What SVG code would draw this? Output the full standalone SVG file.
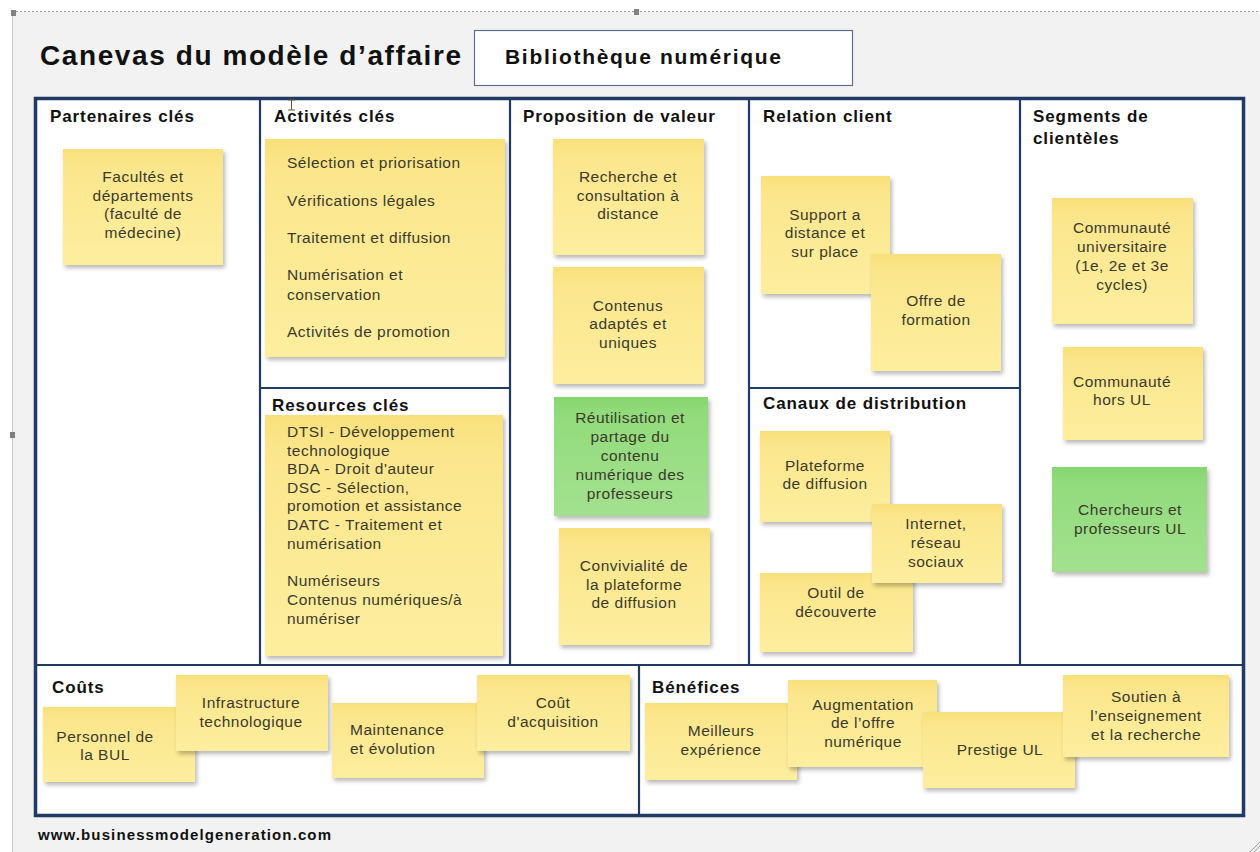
<svg xmlns="http://www.w3.org/2000/svg" width="1260" height="852" viewBox="0 0 1260 852">
<defs>
<linearGradient id="gy" x1="0" y1="0" x2="0" y2="1">
<stop offset="0" stop-color="#f8e07a"/>
<stop offset="0.15" stop-color="#fbe68c"/>
<stop offset="1" stop-color="#fdee9f"/>
</linearGradient>
<linearGradient id="gg" x1="0" y1="0" x2="0" y2="1">
<stop offset="0" stop-color="#86d670"/>
<stop offset="0.15" stop-color="#92db7c"/>
<stop offset="1" stop-color="#a3e18f"/>
</linearGradient>
<filter id="sh" x="-10%" y="-10%" width="125%" height="130%">
<feDropShadow dx="2" dy="3" stdDeviation="2" flood-color="#000" flood-opacity="0.28"/>
</filter>
</defs>
<style>
.note{fill:url(#gy);filter:url(#sh)}
.green{fill:url(#gg);filter:url(#sh)}
.nt{font-family:"Liberation Sans",Arial,sans-serif;font-size:15.5px;letter-spacing:0.5px;fill:#3b3a2c}
.c{text-anchor:middle}
.hd{font-family:"Liberation Sans",Arial,sans-serif;font-size:17px;letter-spacing:0.9px;font-weight:bold;fill:#111}
.ln{stroke:#1f3a63;stroke-width:2.2;fill:none}
</style>
<rect x="0" y="0" width="1260" height="852" fill="#ffffff"/>
<rect x="13" y="12" width="1247" height="840" fill="#f2f2f2"/>
<line x1="12" y1="11.5" x2="1260" y2="11.5" stroke="#9a9a9a" stroke-width="1" stroke-dasharray="2,2"/>
<line x1="12.5" y1="12" x2="12.5" y2="852" stroke="#c8c8c8" stroke-width="1"/>
<rect x="11" y="10" width="5" height="6" fill="#808080"/>
<rect x="634" y="9" width="5" height="6" fill="#808080"/>
<rect x="10" y="432" width="5" height="6" fill="#808080"/>
<path d="M1250 852 L1260 842 M1254 852 L1260 846" stroke="#9a9a9a" stroke-width="1"/>

<g id="title">
<text x="40" y="65" font-family="Liberation Sans,Arial,sans-serif" font-size="28" font-weight="bold" fill="#111" textLength="421" lengthAdjust="spacing">Canevas du modèle d’affaire</text>
<rect x="474.5" y="30.5" width="378" height="55" fill="#ffffff" stroke="#5d7290" stroke-width="1.2"/>
<text x="505" y="64" font-family="Liberation Sans,Arial,sans-serif" font-size="21" font-weight="bold" fill="#111" textLength="276" lengthAdjust="spacing">Bibliothèque numérique</text>
</g>

<g id="canvas">
<rect x="35.5" y="98.5" width="1208" height="717" fill="#ffffff"/>
<line class="ln" x1="260" y1="98" x2="260" y2="665"/>
<line class="ln" x1="510" y1="98" x2="510" y2="665"/>
<line class="ln" x1="749" y1="98" x2="749" y2="665"/>
<line class="ln" x1="1020" y1="98" x2="1020" y2="665"/>
<line class="ln" x1="260" y1="388" x2="510" y2="388"/>
<line class="ln" x1="749" y1="388" x2="1020" y2="388"/>
<line class="ln" x1="35" y1="665" x2="1244" y2="665"/>
<line class="ln" x1="639" y1="665" x2="639" y2="815"/>
<rect x="35.5" y="98.5" width="1208" height="717" fill="none" stroke="#1f3a63" stroke-width="3.5"/>
<text class="hd" x="50" y="122">Partenaires clés</text>
<text class="hd" x="274" y="122">Activités clés</text>
<text class="hd" x="523" y="122">Proposition de valeur</text>
<text class="hd" x="763" y="122">Relation client</text>
<text class="hd" x="1033" y="122">Segments de</text>
<text class="hd" x="1033" y="144">clientèles</text>
<text class="hd" x="272" y="411">Resources clés</text>
<text class="hd" x="763" y="409">Canaux de distribution</text>
<text class="hd" x="52" y="693">Coûts</text>
<text class="hd" x="652" y="693">Bénéfices</text>
<path d="M288 100 L295 100 M291.5 100 L291.5 110 M288 110 L295 110" stroke="#6b5a3a" stroke-width="1"/>
</g>

<g id="n-facultes">
<rect class="note" x="63" y="149" width="160" height="116"/>
<text class="nt c" x="143" y="182">Facultés et</text>
<text class="nt c" x="143" y="201">départements</text>
<text class="nt c" x="143" y="219">(faculté de</text>
<text class="nt c" x="143" y="238">médecine)</text>
</g>

<g id="n-activites">
<rect class="note" x="265" y="139" width="240" height="218"/>
<text class="nt" x="287" y="168">Sélection et priorisation</text>
<text class="nt" x="287" y="206">Vérifications légales</text>
<text class="nt" x="287" y="243">Traitement et diffusion</text>
<text class="nt" x="287" y="280">Numérisation et</text>
<text class="nt" x="287" y="300">conservation</text>
<text class="nt" x="287" y="337">Activités de promotion</text>
</g>

<g id="n-ressources">
<rect class="note" x="265" y="415" width="238" height="241"/>
<text class="nt" x="287" y="437">DTSI - Développement</text>
<text class="nt" x="287" y="456">technologique</text>
<text class="nt" x="287" y="474">BDA - Droit d'auteur</text>
<text class="nt" x="287" y="493">DSC - Sélection,</text>
<text class="nt" x="287" y="511">promotion et assistance</text>
<text class="nt" x="287" y="530">DATC - Traitement et</text>
<text class="nt" x="287" y="549">numérisation</text>
<text class="nt" x="287" y="586">Numériseurs</text>
<text class="nt" x="287" y="605">Contenus numériques/à</text>
<text class="nt" x="287" y="624">numériser</text>
</g>

<g id="n-recherche">
<rect class="note" x="553" y="139" width="151" height="116"/>
<text class="nt c" x="628" y="182">Recherche et</text>
<text class="nt c" x="628" y="201">consultation à</text>
<text class="nt c" x="628" y="219">distance</text>
</g>

<g id="n-contenus">
<rect class="note" x="553" y="267" width="151" height="117"/>
<text class="nt c" x="628" y="311">Contenus</text>
<text class="nt c" x="628" y="329">adaptés et</text>
<text class="nt c" x="628" y="348">uniques</text>
</g>

<g id="n-reutilisation">
<rect class="green" x="554" y="397" width="154" height="119"/>
<text class="nt c" x="630" y="423">Réutilisation et</text>
<text class="nt c" x="630" y="442">partage du</text>
<text class="nt c" x="630" y="461">contenu</text>
<text class="nt c" x="630" y="480">numérique des</text>
<text class="nt c" x="630" y="499">professeurs</text>
</g>

<g id="n-convivialite">
<rect class="note" x="559" y="528" width="151" height="117"/>
<text class="nt c" x="634" y="571">Convivialité de</text>
<text class="nt c" x="634" y="590">la plateforme</text>
<text class="nt c" x="634" y="608">de diffusion</text>
</g>

<g id="n-support">
<rect class="note" x="761" y="176" width="129" height="118"/>
<text class="nt c" x="825" y="220">Support a</text>
<text class="nt c" x="825" y="238">distance et</text>
<text class="nt c" x="825" y="257">sur place</text>
</g>

<g id="n-offre">
<rect class="note" x="871" y="254" width="130" height="117"/>
<text class="nt c" x="936" y="306">Offre de</text>
<text class="nt c" x="936" y="325">formation</text>
</g>

<g id="n-plateforme">
<rect class="note" x="760" y="431" width="130" height="91"/>
<text class="nt c" x="825" y="471">Plateforme</text>
<text class="nt c" x="825" y="489">de diffusion</text>
</g>

<g id="n-outil">
<rect class="note" x="760" y="573" width="153" height="79"/>
<text class="nt c" x="836" y="598">Outil de</text>
<text class="nt c" x="836" y="617">découverte</text>
</g>

<g id="n-internet">
<rect class="note" x="872" y="504" width="130" height="79"/>
<text class="nt c" x="936" y="529">Internet,</text>
<text class="nt c" x="936" y="548">réseau</text>
<text class="nt c" x="936" y="567">sociaux</text>
</g>

<g id="n-communaute-univ">
<rect class="note" x="1052" y="198" width="141" height="126"/>
<text class="nt c" x="1122" y="233">Communauté</text>
<text class="nt c" x="1122" y="252">universitaire</text>
<text class="nt c" x="1122" y="271">(1e, 2e et 3e</text>
<text class="nt c" x="1122" y="290">cycles)</text>
</g>

<g id="n-communaute-hors">
<rect class="note" x="1063" y="347" width="140" height="93"/>
<text class="nt c" x="1122" y="387">Communauté</text>
<text class="nt c" x="1122" y="405">hors UL</text>
</g>

<g id="n-chercheurs">
<rect class="green" x="1052" y="467" width="155" height="105"/>
<text class="nt c" x="1130" y="515">Chercheurs et</text>
<text class="nt c" x="1130" y="534">professeurs UL</text>
</g>

<g id="n-personnel">
<rect class="note" x="43" y="707" width="152" height="75"/>
<text class="nt c" x="105" y="742">Personnel de</text>
<text class="nt c" x="105" y="760">la BUL</text>
</g>

<g id="n-infrastructure">
<rect class="note" x="176" y="675" width="152" height="76"/>
<text class="nt c" x="251" y="708">Infrastructure</text>
<text class="nt c" x="251" y="727">technologique</text>
</g>

<g id="n-maintenance">
<rect class="note" x="332" y="703" width="152" height="75"/>
<text class="nt" x="350" y="735">Maintenance</text>
<text class="nt" x="350" y="754">et évolution</text>
</g>

<g id="n-cout">
<rect class="note" x="477" y="675" width="153" height="76"/>
<text class="nt c" x="553" y="708">Coût</text>
<text class="nt c" x="553" y="727">d'acquisition</text>
</g>

<g id="n-meilleurs">
<rect class="note" x="645" y="703" width="152" height="77"/>
<text class="nt c" x="721" y="736">Meilleurs</text>
<text class="nt c" x="721" y="755">expérience</text>
</g>

<g id="n-augmentation">
<rect class="note" x="788" y="680" width="149" height="87"/>
<text class="nt c" x="863" y="710">Augmentation</text>
<text class="nt c" x="863" y="728">de l’offre</text>
<text class="nt c" x="863" y="747">numérique</text>
</g>

<g id="n-prestige">
<rect class="note" x="923" y="712" width="152" height="76"/>
<text class="nt c" x="1000" y="755">Prestige UL</text>
</g>

<g id="n-soutien">
<rect class="note" x="1063" y="675" width="166" height="82"/>
<text class="nt c" x="1146" y="702">Soutien à</text>
<text class="nt c" x="1146" y="721">l’enseignement</text>
<text class="nt c" x="1146" y="740">et la recherche</text>
</g>

<g id="connectors"></g>

<text x="38" y="840" font-family="Liberation Sans,Arial,sans-serif" font-size="15" font-weight="bold" fill="#111" textLength="293" lengthAdjust="spacing">www.businessmodelgeneration.com</text>
</svg>
